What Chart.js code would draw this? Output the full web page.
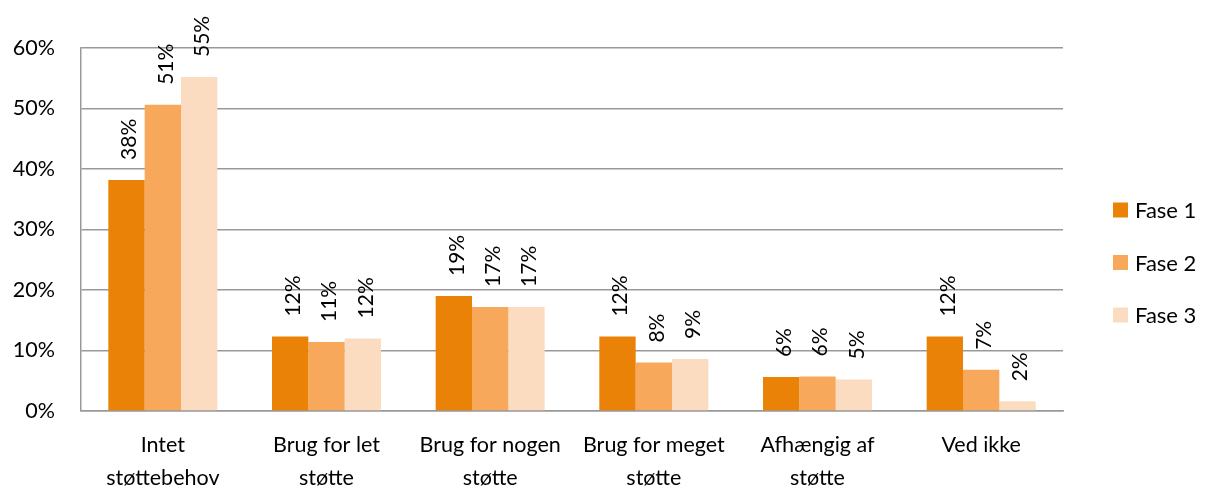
<html>
<head>
<meta charset="utf-8">
<script src="https://cdn.jsdelivr.net/npm/chart.js@4.4.0/dist/chart.umd.min.js"></script>
<style>
  body { margin: 0; background: #fff; }
  #wrap { width: 1206px; height: 488px; }
</style>
</head>
<body>
<div id="wrap"><canvas id="supportChart"></canvas></div>
<script>
  // categories and values (percent)
  var categories = [
    ["Intet", "støttebehov"],
    ["Brug for let", "støtte"],
    ["Brug for nogen", "støtte"],
    ["Brug for meget", "støtte"],
    ["Afhængig af", "støtte"],
    "Ved ikke"
  ];
  var fase1 = [38.2, 12.3, 19.0, 12.3, 5.6, 12.3];
  var fase2 = [50.6, 11.4, 17.2, 8.0, 5.7, 6.8];
  var fase3 = [55.2, 12.0, 17.2, 8.6, 5.2, 1.6];
  var seriesNames = ["Fase 1", "Fase 2", "Fase 3"];
  var yTicks = [0, 10, 20, 30, 40, 50, 60];

  var fontFamily = "Lato, 'Open Sans', sans-serif";
  var fontSize = 21.5;

  // rotated value labels above each bar
  var barLabels = {
    id: "barLabels",
    afterDatasetsDraw: function(chart) {
      var ctx = chart.ctx;
      ctx.save();
      ctx.font = "21px " + fontFamily;
      ctx.fillStyle = "#000";
      ctx.textAlign = "left";
      ctx.textBaseline = "middle";
      chart.data.datasets.forEach(function(ds, i) {
        var meta = chart.getDatasetMeta(i);
        meta.data.forEach(function(bar, j) {
          ctx.save();
          ctx.translate(bar.x + 3, bar.y - 20);
          ctx.rotate(-Math.PI / 2);
          ctx.fillText(Math.round(ds.data[j]) + "%", 0, 0);
          ctx.restore();
        });
      });
      ctx.restore();
    }
  };

  // legend on the right, drawn like the Excel one (square + name)
  var sideLegend = {
    id: "sideLegend",
    afterDraw: function(chart) {
      var ctx = chart.ctx;
      var area = chart.chartArea;
      var x = area.right + 50;
      var y0 = 210;
      var step = 52.5;
      ctx.save();
      ctx.font = "22px " + fontFamily;
      ctx.textBaseline = "middle";
      ctx.textAlign = "left";
      chart.data.datasets.forEach(function(ds, i) {
        var cy = y0 + i * step;
        ctx.fillStyle = ds.backgroundColor;
        ctx.fillRect(x, cy - 7.5, 15, 15);
        ctx.fillStyle = "#000";
        ctx.fillText(ds.label, x + 22, cy + 1);
      });
      ctx.restore();
    }
  };

  var ctx = document.getElementById("supportChart");
  var supportChart = new Chart(ctx, {
    type: "bar",
    data: {
      labels: categories,
      datasets: [
        { label: seriesNames[0], data: fase1, backgroundColor: "#EA8208" },
        { label: seriesNames[1], data: fase2, backgroundColor: "#F8A85A" },
        { label: seriesNames[2], data: fase3, backgroundColor: "#FBDCC0" }
      ]
    },
    options: {
      responsive: true,
      maintainAspectRatio: false,
      animation: false,
      layout: { padding: { top: 48, right: 143, bottom: 0, left: 0 } },
      datasets: { bar: { categoryPercentage: 0.666, barPercentage: 1.0 } },
      plugins: {
        tooltip: { enabled: false },
        legend: { display: false }
      },
      scales: {
        x: {
          grid: { display: false, drawTicks: false },
          border: { display: true, color: "#999", width: 1.5 },
          ticks: {
            color: "#000",
            padding: 18,
            maxRotation: 0,
            autoSkip: false,
            font: { family: fontFamily, size: fontSize, lineHeight: 1.53 }
          },
          afterFit: function(scale) { scale.height = 77; }
        },
        y: {
          min: yTicks[0],
          max: yTicks[yTicks.length - 1],
          grid: { color: "#999", lineWidth: 1.5, drawTicks: false },
          border: { display: true, color: "#999", width: 1.5 },
          afterBuildTicks: function(scale) {
            scale.ticks = yTicks.map(function(v) { return { value: v }; });
          },
          ticks: {
            color: "#000",
            padding: 26,
            font: { family: fontFamily, size: fontSize },
            callback: function(v) { return v + "%"; }
          },
          afterFit: function(scale) { scale.width = 81; }
        }
      }
    },
    plugins: [barLabels, sideLegend]
  });
</script>
</body>
</html>
